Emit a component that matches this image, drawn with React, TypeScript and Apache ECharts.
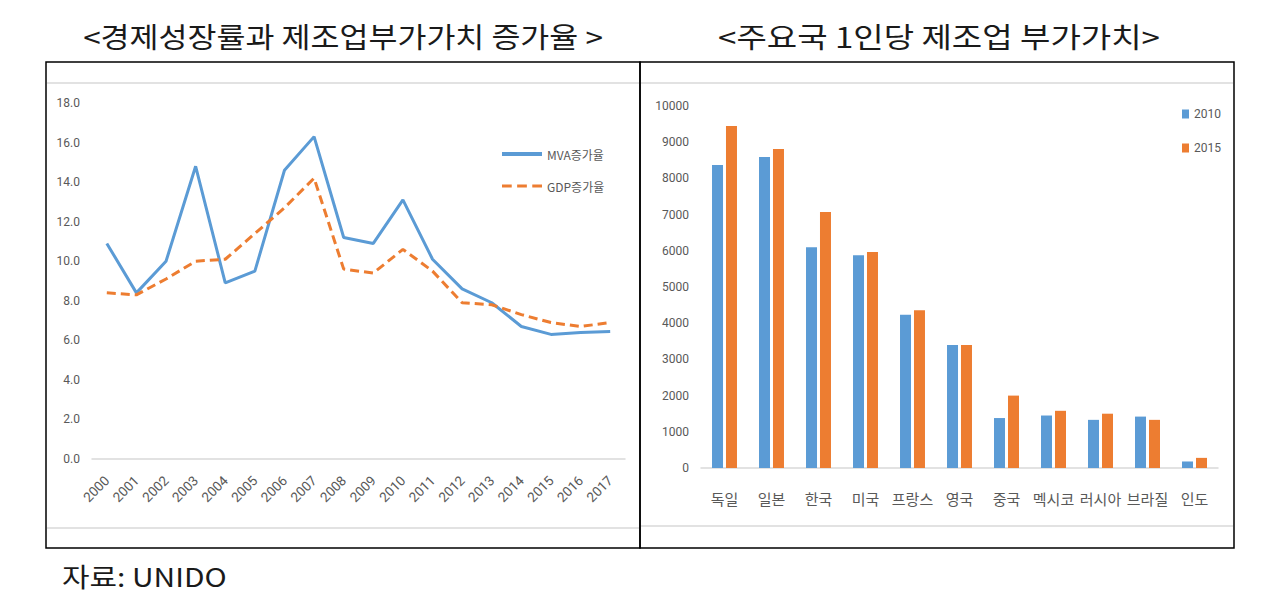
import React, { useEffect, useRef } from "react";
import * as echarts from "echarts";

const years = ["2000","2001","2002","2003","2004","2005","2006","2007","2008","2009","2010","2011","2012","2013","2014","2015","2016","2017"];
const mvaGrowth = [10.9, 8.4, 10.0, 14.8, 8.9, 9.5, 14.6, 16.3, 11.2, 10.9, 13.1, 10.1, 8.6, 7.9, 6.7, 6.3, 6.4, 6.45];
const gdpGrowth = [8.4, 8.3, 9.1, 10.0, 10.1, 11.4, 12.7, 14.2, 9.6, 9.4, 10.6, 9.5, 7.9, 7.8, 7.3, 6.9, 6.7, 6.9];

const countries = ["독일", "일본", "한국", "미국", "프랑스", "영국", "중국", "멕시코", "러시아", "브라질", "인도"];
const mva2010 = [8370, 8590, 6100, 5880, 4230, 3400, 1380, 1450, 1330, 1420, 180];
const mva2015 = [9450, 8810, 7070, 5970, 4360, 3400, 2000, 1580, 1500, 1330, 280];

const leftTitle = "<경제성장률과 제조업부가가치 증가율 >";
const rightTitle = "<주요국 1인당 제조업 부가가치>";
const sourceText = "자료: UNIDO";

const BLUE = "#5B9BD5";
const ORANGE = "#ED7D31";
const GREY = "#595959";
const KR = "'Noto Sans CJK KR', 'Noto Sans', sans-serif";
const NUM = "'Liberation Sans Narrow', 'Roboto', sans-serif";

export default function App() {
  const ref = useRef<HTMLDivElement>(null);
  useEffect(() => {
    if (!ref.current) return;
    const chart = echarts.init(ref.current, undefined, { renderer: "svg" });
    chart.setOption({
      animation: false,
      backgroundColor: "#ffffff",
      graphic: [
        { type: "rect", shape: { x: 46, y: 62, width: 594, height: 486 }, style: { fill: "none", stroke: "#000", lineWidth: 1.5 } },
        { type: "rect", shape: { x: 640, y: 62, width: 594, height: 486 }, style: { fill: "none", stroke: "#000", lineWidth: 1.5 } },
        { type: "line", shape: { x1: 47, y1: 83, x2: 639, y2: 83 }, style: { stroke: "#D9D9D9", lineWidth: 1.5 } },
        { type: "line", shape: { x1: 47, y1: 528, x2: 639, y2: 528 }, style: { stroke: "#D9D9D9", lineWidth: 1.5 } },
        { type: "line", shape: { x1: 641, y1: 83, x2: 1233, y2: 83 }, style: { stroke: "#D9D9D9", lineWidth: 1.5 } },
        { type: "line", shape: { x1: 641, y1: 526, x2: 1233, y2: 526 }, style: { stroke: "#D9D9D9", lineWidth: 1.5 } },
        { type: "text", x: 343, y: 36, scaleX: 1.125, style: { text: leftTitle, font: `28px ${KR}`, fill: "#1a1a1a", align: "center", verticalAlign: "middle" } },
        { type: "text", x: 939, y: 36, scaleX: 1.18, style: { text: rightTitle, font: `28px ${KR}`, fill: "#1a1a1a", align: "center", verticalAlign: "middle" } },
        { type: "text", x: 62, y: 576, scaleX: 1.15, style: { text: sourceText, font: `26px ${KR}`, fill: "#1a1a1a", align: "left", verticalAlign: "middle" } },
      ],
      legend: [
        {
          orient: "vertical",
          left: 497,
          top: 143,
          itemWidth: 40,
          itemHeight: 4,
          itemGap: 20,
          data: [
            { name: "MVA증가율", icon: "rect" },
            { name: "GDP증가율", icon: "path://M0,0h9v3h-9z M14,0h9v3h-9z M28,0h9v3h-9z" },
          ],
          textStyle: { color: GREY, fontSize: 12, fontFamily: KR },
        },
        {
          orient: "vertical",
          left: 1177,
          top: 103,
          itemWidth: 7,
          itemHeight: 9,
          itemGap: 22,
          icon: "rect",
          data: ["2010", "2015"],
          textStyle: { color: GREY, fontSize: 12, fontFamily: NUM },
        },
      ],
      grid: [
        { left: 92, right: 650, top: 103, bottom: 142 },
        { left: 701, right: 57, top: 106, bottom: 133 },
      ],
      xAxis: [
        {
          type: "category",
          gridIndex: 0,
          data: years,
          axisLine: { lineStyle: { color: "#D9D9D9", width: 1.5 } },
          axisTick: { show: false },
          axisLabel: { rotate: 45, color: GREY, fontSize: 13.5, fontFamily: NUM, margin: 19, interval: 0 },
        },
        {
          type: "category",
          gridIndex: 1,
          data: countries,
          axisLine: { lineStyle: { color: "#D9D9D9", width: 1.5 } },
          axisTick: { show: false },
          axisLabel: { color: GREY, fontSize: 15, fontFamily: KR, margin: 23, interval: 0 },
        },
      ],
      yAxis: [
        {
          type: "value",
          gridIndex: 0,
          min: 0,
          max: 18,
          interval: 2,
          axisLine: { show: false },
          axisTick: { show: false },
          splitLine: { show: false },
          axisLabel: { color: GREY, fontSize: 12, fontFamily: NUM, margin: 12, formatter: (v: number) => v.toFixed(1) },
        },
        {
          type: "value",
          gridIndex: 1,
          min: 0,
          max: 10000,
          interval: 1000,
          axisLine: { show: false },
          axisTick: { show: false },
          splitLine: { show: false },
          axisLabel: { color: GREY, fontSize: 12, fontFamily: NUM, margin: 12, formatter: (v: number) => String(v) },
        },
      ],
      series: [
        {
          name: "MVA증가율",
          type: "line",
          xAxisIndex: 0,
          yAxisIndex: 0,
          data: mvaGrowth,
          symbol: "none",
          lineStyle: { color: BLUE, width: 3 },
          itemStyle: { color: BLUE },
        },
        {
          name: "GDP증가율",
          type: "line",
          xAxisIndex: 0,
          yAxisIndex: 0,
          data: gdpGrowth,
          symbol: "none",
          lineStyle: { color: ORANGE, width: 3, type: [9, 5] },
          itemStyle: { color: ORANGE },
        },
        {
          name: "2010",
          type: "bar",
          xAxisIndex: 1,
          yAxisIndex: 1,
          data: mva2010,
          barWidth: 11,
          barGap: "27%",
          itemStyle: { color: BLUE },
        },
        {
          name: "2015",
          type: "bar",
          xAxisIndex: 1,
          yAxisIndex: 1,
          data: mva2015,
          barWidth: 11,
          itemStyle: { color: ORANGE },
        },
      ],
    });
    return () => chart.dispose();
  }, []);
  return <div ref={ref} style={{ position: "fixed", left: 0, top: 0, width: 1275, height: 601 }} />;
}
